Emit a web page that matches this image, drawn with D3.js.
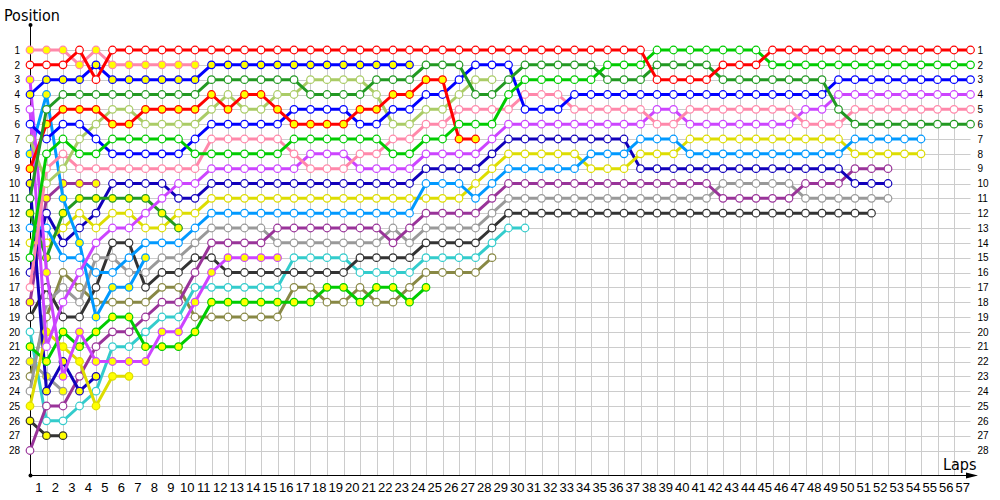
<!DOCTYPE html>
<html>
<head>
<meta charset="utf-8">
<script src="https://cdn.jsdelivr.net/npm/d3@7"></script>
<style>
  body { margin: 0; background: #fff; }
  svg { display: block; font-family: "DejaVu Sans Condensed", Tahoma, "DejaVu Sans", sans-serif; font-stretch: condensed; }
</style>
</head>
<body>
<div id="chart"></div>
<script>
// lap / position labels
const lapLabels = [1,2,3,4,5,6,7,8,9,10,11,12,13,14,15,16,17,18,19,20,21,22,23,24,25,26,27,28,29,30,
  31,32,33,34,35,36,37,38,39,40,41,42,43,44,45,46,47,48,49,50,51,52,53,54,55,56,57];
const positionLabels = [1,2,3,4,5,6,7,8,9,10,11,12,13,14,15,16,17,18,19,20,21,22,23,24,25,26,27,28];

// position of each car from the grid (lap 0) to its last lap
const redW = [2,2,2,1,3,1, 1,1,1,1,1,1,1,1,1,1,1,1,1,1,1,1,1,1,1,1,1,1,1,1,1,1,1,1,1,1,1,1,
  3,3,3,3, 2,2,2, 1,1,1,1,1,1,1,1,1,1,1,1,1];
const pinkY = [1,1,1,2,1,2,2,2,2,2,2];
const blueY = [4,3,3,3,2,3,3,3,3,3,3, 2,2,2,2,2,2,2,2,2,2,2,2,2];
const dkgreenW = [11,5,4,4,4,4,4,4,4,4,4, 3,3,3,3,3,3, 4,4,4,4, 3,3,3, 2,2,2, 4,4, 3, 2,2,2,2,2,
  3,3,3, 2,2,2,2, 3,3,3,3,3,3,3, 5, 6,6,6,6,6,6,6,6];
const redY = [9,6,5,5,5,6,6,5,5,5,5, 4,5,4,4,5, 6,6,6,6, 5,5, 4,4, 3,3, 7,7];
const blueW = [6,7,6,6,7,8,8,8,8,8,7, 6,6,6,6,6, 5,5,5,5, 6,6, 5,5, 4,4, 3, 2,2,2, 5,5,5,
  4,4,4,4,4,4,4,4,4,4,4,4,4,4,4,4, 3,3,3,3,3,3,3,3,3];
const lightgreenW = [7,10,9,7,6,5,5,6,6,6,6, 5,4,5,5,4,4, 3,3,3,3, 4, 6,6, 5,5, 4, 3,3];
const greenW = [15,8,7,8,8,7,7,7,7,7,8, 8,8,8,8,8, 7,7,7,7,7,7, 8,8, 7,7, 6,6,6, 4, 3,3,3,3,3,
  2,2,2, 1,1,1,1,1,1,1, 2,2,2,2,2,2,2,2,2,2,2,2,2];
const pinkW = [17,9,8,9,9,9,9,9,9,9,9, 7,7,7,7,7, 8, 9,9,9, 8,8, 7,7, 6,6, 5,5,5,5, 4,4,4,
  5,5,5,5,5, 6,6, 5,5,5,5,5,5,5, 6,6,6, 5,5,5,5,5,5,5,5];
const violetW = [5,21,18,16,14,13,13,12,11,10,10, 9,9,9,9,9,9, 8,8,8, 9,9,9,9, 8,8,8,8, 7,
  6,6,6,6,6,6,6,6,6, 5,5, 6,6,6,6,6,6,6, 5,5, 4,4,4,4,4,4,4,4,4];
const lightblueY = [8,4,11,14,19,17,17,15];
const lightblueW = [13,13,15,15,16,16,15,14,14,14,13, 12,12,12,12,12,12,12,12,12,12,12,12,12,
  10,10,10, 11, 10, 9,9,9,9,9, 8,8,8, 7,7,7, 8,8,8,8,8,8,8,8,8,8, 7,7,7,7,7];
const yellowW = [14,14,13,12,13,12,12,13,13,12,12, 11,11,11,11,11,11,11,11,11,11,11,11,11,11,11,11,
  10, 9, 8,8,8,8,8, 9,9,9, 8,8,8, 7,7,7,7,7,7,7,7,7,7, 8,8,8,8,8];
const yellowY = [25,20,21,22,25,23,23];
const purpleY = [18,11,10,10,10];
const navyW = [16,12,14,13,12,10,10,10,10,11,11, 10,10,10,10,10,10,10,10,10,10,10,10,10,
  9,9,9,9, 8, 7,7,7,7,7,7,7,7, 9,9,9,9,9,9,9,9,9,9,9,9,9, 10,10,10];
const navyY = [10,24,22,24,23];
const dkgreenY = [12,15,12,11,11,11,11,11,12,13];
const greyY = [22,23,24];
const dkgreyY = [26,27,27];
const greyW = [24,18,17,18,15,15,16,16,15,15,14, 13,13,13,13, 14,14,14,14,14,14,14, 13, 14,
  13,13,13,13, 12, 11,11,11,11,11,11,11,11,11,11,11,11,11, 10,10,10,10,10, 11,11,11,11,11,11];
const purpleW = [28,25,25,23,21,20,20,19,18,18,16, 14,14,14,14, 13,13,13,13,13,13,13, 14, 13,
  12,12,12,12, 11, 10,10,10,10,10,10,10,10,10,10,10,10,10, 11,11,11,11,11, 10,10,10, 9,9,9];
const dkgreyW = [19,17,19,19,17,14,14,17,16,16,15, 15, 16,16,16,16,16,16,16,16, 15,15,15,15,
  14,14,14,14, 13, 12,12,12,12,12,12,12,12,12,12,12,12,12,12,12,12,12,12,12,12,12,12,12];
const cyanW = [20,26,26,25,24,21,21,20,19,19,17, 17,17,17,17,17, 15,15,15,15, 16,16,16,16,
  15,15,15,15, 14, 13,13];
const oliveW = [23,19,16,17,18,18,18,18,17,17,19, 19,19,19,19,19, 17,17, 18,18, 17, 18,18, 17,
  16,16,16,16, 15];
const greenY = [21,22,20,21,20,19,19,21,21,21,20, 18,18,18,18,18,18,18, 17,17, 18, 17,17, 18, 17];
const violetY = [3,16,23,20,22,22,22,22,20,20,18,16,15,15,15,15];

// table for drawing (bottom of the field first, leaders drawn last)
const drivers = [
  { color: "#888844", fill: "#fff", pos: oliveW },
  { color: "#33cccc", fill: "#fff", pos: cyanW },
  { color: "#333333", fill: "#ffff00", pos: dkgreyY },
  { color: "#999999", fill: "#ffff00", pos: greyY },
  { color: "#333333", fill: "#fff", pos: dkgreyW },
  { color: "#999999", fill: "#fff", pos: greyW },
  { color: "#993399", fill: "#fff", pos: purpleW },
  { color: "#993399", fill: "#ffff00", pos: purpleY },
  { color: "#1100bb", fill: "#ffff00", pos: navyY },
  { color: "#1100bb", fill: "#fff", pos: navyW },
  { color: "#00cc00", fill: "#ffff00", pos: greenY },
  { color: "#dddd00", fill: "#ffff00", pos: yellowY },
  { color: "#dddd00", fill: "#fff", pos: yellowW },
  { color: "#229922", fill: "#ffff00", pos: dkgreenY },
  { color: "#0099ff", fill: "#ffff00", pos: lightblueY },
  { color: "#0099ff", fill: "#fff", pos: lightblueW },
  { color: "#cc44ff", fill: "#ffff00", pos: violetY },
  { color: "#cc44ff", fill: "#fff", pos: violetW },
  { color: "#ff88aa", fill: "#fff", pos: pinkW },
  { color: "#aacc66", fill: "#fff", pos: lightgreenW },
  { color: "#0000ff", fill: "#fff", pos: blueW },
  { color: "#ff0000", fill: "#ffff00", pos: redY },
  { color: "#229922", fill: "#fff", pos: dkgreenW },
  { color: "#0000ff", fill: "#ffff00", pos: blueY },
  { color: "#ff88aa", fill: "#ffff00", pos: pinkY },
  { color: "#00cc00", fill: "#fff", pos: greenW },
  { color: "#ff0000", fill: "#fff", pos: redW },
];

const width = 1000;
const height = 500;
const x0 = 30;
const axisY = 475;

const x = d3.scaleLinear().domain([0, 57]).range([x0, 970.5]);
const y = d3.scaleLinear().domain([1, 28]).range([50, 450.5]);
// lap numbers sit between two lap lines
const xLabel = d3.scaleLinear().domain([1, 57]).range([x(0.5), x(56.5)]);

const svg = d3.select("#chart").append("svg")
  .attr("width", width)
  .attr("height", height)
  .style("background", "#fff");

// grid
const grid = svg.append("g").attr("stroke", "#cccccc").attr("stroke-width", 1);
grid.selectAll(".vgrid")
  .data(lapLabels.slice(0, 56))
  .join("line")
  .attr("x1", d => Math.round(x(d)) + 0.5)
  .attr("x2", d => Math.round(x(d)) + 0.5)
  .attr("y1", y(1))
  .attr("y2", axisY);
grid.selectAll(".hgrid")
  .data(positionLabels)
  .join("line")
  .attr("x1", x0)
  .attr("x2", x(57))
  .attr("y1", d => Math.round(y(d)) + 0.5)
  .attr("y2", d => Math.round(y(d)) + 0.5);

// axes
const leftAxis = svg.append("g")
  .attr("transform", `translate(${x0},0)`)
  .call(d3.axisLeft(y).tickValues(positionLabels).tickSize(0).tickPadding(10));
const rightAxis = svg.append("g")
  .attr("transform", `translate(${x(57)},0)`)
  .call(d3.axisRight(y).tickValues(positionLabels).tickSize(0).tickPadding(7));
[leftAxis, rightAxis].forEach(a => {
  a.select(".domain").remove();
  a.selectAll("text").attr("font-size", 10).attr("font-family", null).attr("fill", "#000");
});

const bottomAxis = svg.append("g")
  .attr("transform", `translate(0,${axisY})`)
  .call(d3.axisBottom(xLabel).tickValues(lapLabels).tickFormat(d3.format("d")).tickSize(0).tickPadding(8));
bottomAxis.select(".domain").remove();
bottomAxis.selectAll("text").attr("font-size", 13).attr("font-family", null).attr("fill", "#000");

svg.append("line")
  .attr("x1", x0 + 0.5).attr("x2", x0 + 0.5)
  .attr("y1", 25).attr("y2", axisY)
  .attr("stroke", "#000").attr("stroke-width", 1);
svg.append("line")
  .attr("x1", x0).attr("x2", 972)
  .attr("y1", axisY + 0.5).attr("y2", axisY + 0.5)
  .attr("stroke", "#000").attr("stroke-width", 1.2);
svg.append("path")
  .attr("d", `M966,${axisY - 2.5} L978,${axisY + 0.5} L966,${axisY + 3.5} Z`)
  .attr("fill", "#000");
svg.append("circle").attr("cx", x0 + 0.5).attr("cy", 25).attr("r", 2).attr("fill", "#000");
svg.append("circle").attr("cx", x0 + 0.5).attr("cy", axisY + 0.5).attr("r", 2).attr("fill", "#000");

svg.append("text").attr("x", 4).attr("y", 21).attr("font-size", 16).attr("fill", "#000").text("Position");
svg.append("text").attr("x", 943).attr("y", 470).attr("font-size", 16).attr("fill", "#000").text("Laps");

// one line and one ring of markers per car
const line = d3.line()
  .x((d, i) => x(i))
  .y(d => y(d));

const cars = svg.append("g")
  .selectAll("g")
  .data(drivers)
  .join("g");

cars.append("path")
  .attr("d", d => line(d.pos))
  .attr("fill", "none")
  .attr("stroke", d => d.color)
  .attr("stroke-width", 3)
  .attr("stroke-linejoin", "round");

cars.selectAll("circle")
  .data(d => d.pos.map((p, i) => ({ lap: i, p, color: d.color, fill: d.fill })))
  .join("circle")
  .attr("cx", d => x(d.lap))
  .attr("cy", d => y(d.p))
  .attr("r", 3.8)
  .attr("fill", d => d.fill)
  .attr("stroke", d => d.color)
  .attr("stroke-width", 1.2);
</script>
</body>
</html>
